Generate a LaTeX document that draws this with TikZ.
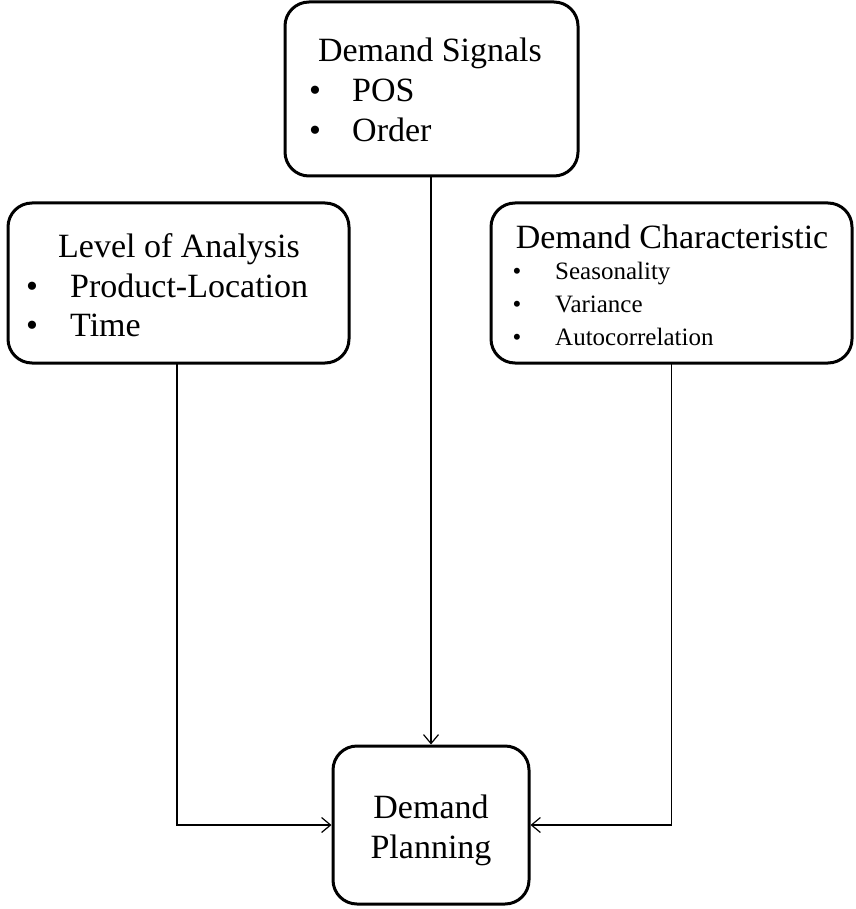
\documentclass[tikz,border=0pt]{standalone}
\usepackage{fontspec}
\setmainfont{Liberation Serif}
\usetikzlibrary{arrows.meta}
\begin{document}
\begin{tikzpicture}[x=1pt,y=-1pt,
  box/.style={draw=black,line width=3pt,rounded corners=24pt,inner sep=0pt,fill=white},
  head/.style={anchor=base,inner sep=0pt,font=\fontsize{34}{40}\selectfont},
  item/.style={anchor=base west,inner sep=0pt,font=\fontsize{34}{40}\selectfont},
  smallitem/.style={anchor=base west,inner sep=0pt,font=\fontsize{25}{30}\selectfont},
  dot/.style={anchor=base,inner sep=0pt,font=\fontsize{34}{40}\selectfont},
  smalldot/.style={anchor=base,inner sep=0pt,font=\fontsize{25}{30}\selectfont},
  link/.style={draw=black,line width=1.2pt,-{Straight Barb[length=9pt,width=15pt,line width=1.2pt]}}]
\useasboundingbox (0,0) rectangle (855,909);

% boxes
\node[box,minimum width=293pt,minimum height=174pt] (sig) at (431.5,89) {};
\node[box,minimum width=341pt,minimum height=160pt] (lvl) at (178.5,283) {};
\node[box,minimum width=361pt,minimum height=160pt] (chr) at (671.5,283) {};
\node[box,minimum width=196pt,minimum height=158pt] (plan) at (431,825) {};

% Demand Signals
\node[head] (sigh) at (430,62) {Demand Signals};
\node[dot] (sigd1) at (315,102) {•};
\node[item] (sigi1) at (352,102) {POS};
\node[dot] (sigd2) at (315,142) {•};
\node[item] (sigi2) at (352,142) {Order};

% Level of Analysis
\node[head] (lvlh) at (179,257) {Level of Analysis};
\node[dot] (lvld1) at (32,297) {•};
\node[item] (lvli1) at (70,297) {Product-Location};
\node[dot] (lvld2) at (32,336) {•};
\node[item] (lvli2) at (70,336) {Time};

% Demand Characteristic
\node[head] (chrh) at (672,248) {Demand Characteristic};
\node[smalldot] (chrd1) at (517,279) {•};
\node[smallitem] (chri1) at (555,279) {Seasonality};
\node[smalldot] (chrd2) at (517,312) {•};
\node[smallitem] (chri2) at (555,312) {Variance};
\node[smalldot] (chrd3) at (517,345) {•};
\node[smallitem] (chri3) at (555,345) {Autocorrelation};

% Demand Planning
\node[head] (planh1) at (431,818) {Demand};
\node[head] (planh2) at (431,858) {Planning};

% connectors
\coordinate (lvlout) at (177,363);
\coordinate (chrout) at (671.5,363);
\draw[link] (sig.south -| plan.north) -- (plan.north);
\draw[link] (lvlout) |- (plan.west);
\draw[link] (chrout) |- (plan.east);
\end{tikzpicture}
\end{document}
